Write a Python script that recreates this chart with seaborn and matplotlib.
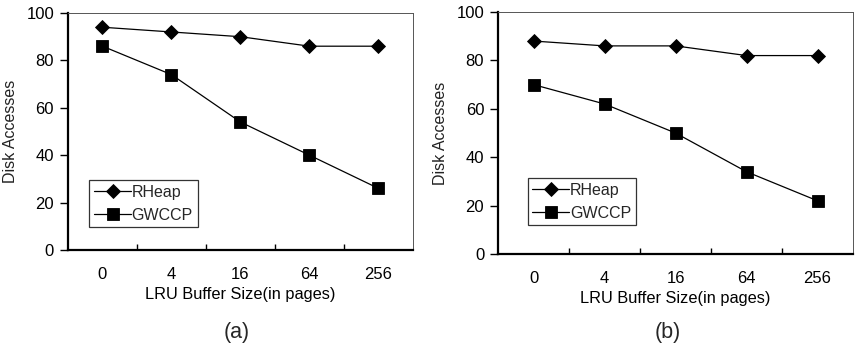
import matplotlib
matplotlib.use("Agg")
import matplotlib.pyplot as plt
import seaborn as sns
import pandas as pd
from matplotlib.ticker import FixedLocator

buffer_sizes = ["0", "4", "16", "64", "256"]
series_names = ["RHeap", "GWCCP"]
rheap_a = [94, 92, 90, 86, 86]
gwccp_a = [86, 74, 54, 40, 26]
rheap_b = [88, 86, 86, 82, 82]
gwccp_b = [70, 62, 50, 34, 22]
panel_labels = ["(a)", "(b)"]

sns.set_theme(style="white")
plt.rcParams['font.family'] = ['Liberation Sans', 'DejaVu Sans']

def make_df(rh, gw):
    rows = []
    for i, lab in enumerate(buffer_sizes):
        rows.append({"pos": i, "size": lab, "series": "RHeap", "val": rh[i]})
    for i, lab in enumerate(buffer_sizes):
        rows.append({"pos": i, "size": lab, "series": "GWCCP", "val": gw[i]})
    return pd.DataFrame(rows)

fig = plt.figure(figsize=(8.55, 3.48), dpi=100)
ax_a = fig.add_axes([0.0795, 0.2816, 0.4035, 0.681])
ax_b = fig.add_axes([0.5825, 0.270, 0.4152, 0.6955])

msizes = {"D": 7.5, "s": 8.8}

for ax, rh, gw, plab, legpos, lblx in [
    (ax_a, rheap_a, gwccp_a, panel_labels[0], (0.062, 0.095), 0.277),
    (ax_b, rheap_b, gwccp_b, panel_labels[1], (0.083, 0.118), 0.781),
]:
    df = make_df(rh, gw)
    sns.lineplot(data=df, x="pos", y="val", hue="series", style="series",
                 hue_order=series_names, style_order=series_names,
                 markers={"RHeap": "D", "GWCCP": "s"}, dashes=False,
                 palette=["black", "black"], linewidth=0.9,
                 markersize=8, markeredgecolor="black", markeredgewidth=0.6,
                 ax=ax)
    for line in ax.get_lines():
        m = line.get_marker()
        if m in msizes:
            line.set_markersize(msizes[m])
    ax.set_xlim(-0.5, 4.5)
    ax.set_ylim(0, 100)
    ax.set_yticks([0, 20, 40, 60, 80, 100])
    ax.set_xticks(range(len(buffer_sizes)))
    ax.set_xticklabels(buffer_sizes)
    ax.xaxis.set_minor_locator(FixedLocator([0.5, 1.5, 2.5, 3.5]))
    ax.tick_params(axis="x", which="major", length=0, pad=12, labelsize=12, colors="black")
    ax.tick_params(axis="x", which="minor", bottom=True, direction="in", length=4, width=1, color="black")
    ax.tick_params(axis="y", which="major", left=True, direction="out", length=6, width=1,
                   pad=4, labelsize=12, colors="black")
    ax.set_xlabel("LRU Buffer Size(in pages)", fontsize=11.8, labelpad=4, color="black")
    ax.set_ylabel("Disk Accesses", fontsize=11.5, labelpad=6, color="#222222")
    for s in ["left", "bottom"]:
        ax.spines[s].set_color("black")
        ax.spines[s].set_linewidth(1.6)
    for s in ["top", "right"]:
        ax.spines[s].set_color("#555555")
        ax.spines[s].set_linewidth(0.7)
    leg = ax.legend(loc="lower left", bbox_to_anchor=legpos, frameon=True, fancybox=False,
                    fontsize=11.5, handlelength=2.3, handletextpad=0.05, borderpad=0.3,
                    labelspacing=0.5, borderaxespad=0)
    leg.get_frame().set_edgecolor("black")
    leg.get_frame().set_linewidth(0.9)
    for h in leg.get_lines():
        m = h.get_marker()
        if m in msizes:
            h.set_markersize(msizes[m])
    fig.text(lblx, 0.045, plab, ha="center", va="center", fontsize=15.5)

fig.savefig("out.png", dpi=100)
